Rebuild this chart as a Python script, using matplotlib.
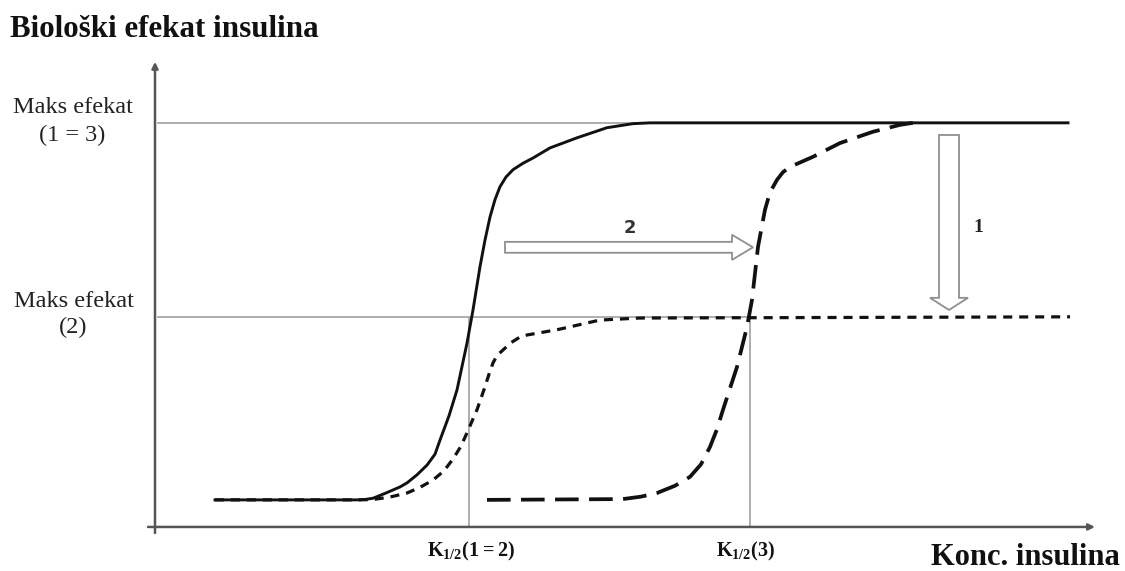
import matplotlib
matplotlib.use("Agg")
import matplotlib.pyplot as plt
import matplotlib.patches as mpatches

plt.rcParams['font.family'] = ['Liberation Serif', 'DejaVu Serif']
plt.rcParams['mathtext.fontset'] = 'custom'
plt.rcParams['mathtext.rm'] = 'Liberation Serif'
plt.rcParams['mathtext.bf'] = 'Liberation Serif:bold'
plt.rcParams['lines.scale_dashes'] = False

# ---- data (insulin concentration, arbitrary units; biological effect, % of max) ----
curve1_x = [6.0, 14.5, 20.2, 21.0, 21.8, 23.0, 24.5, 25.2, 26.2, 27.2, 28.0, 28.5,
            29.4, 30.2, 31.2, 31.8, 32.5, 33.0, 33.5, 34.0, 34.5, 35.1, 35.8, 36.8,
            37.8, 39.5, 42.2, 45.2, 47.8, 49.5, 51.2, 91.3]
curve1_y = [6.7, 6.7, 6.7, 6.8, 7.1, 8.3, 9.9, 10.9, 12.9, 15.3, 18.0, 21.5,
            27.5, 33.9, 45.5, 53.7, 64.4, 71.0, 76.7, 81.0, 84.2, 86.6, 88.4, 90.0,
            91.3, 93.8, 96.3, 98.8, 99.8, 100.0, 100.0, 100.0]

curve2_x = [6.0, 14.5, 20.5, 21.8, 23.5, 25.2, 26.5, 27.8, 28.9, 29.8, 30.6, 31.2,
            32.2, 33.0, 33.4, 33.8, 34.2, 34.8, 35.6, 36.5, 37.2, 40.2, 44.5, 48.5, 91.5]
curve2_y = [6.7, 6.7, 6.7, 6.8, 7.4, 8.4, 9.8, 11.6, 13.9, 16.8, 20.0, 23.3,
            29.0, 34.7, 37.8, 40.6, 42.4, 43.8, 45.6, 47.0, 47.5, 48.8, 51.2, 51.7, 52.0]

curve3_x = [33.2, 46.8, 48.6, 50.2, 52.0, 53.5, 54.6, 55.5, 56.2, 56.8, 58.2, 59.2,
            59.7, 60.3, 61.0, 61.5, 62.2, 62.8, 63.5, 65.8, 68.5, 71.8, 74.5, 75.8]
curve3_y = [6.7, 6.9, 7.5, 8.4, 10.2, 12.4, 15.5, 19.8, 24.2, 29.0, 39.6, 49.5,
            56.2, 69.3, 78.5, 82.8, 85.9, 87.8, 89.1, 91.6, 95.0, 97.8, 99.5, 100.0]

max_effect_13 = 100.0
max_effect_2 = 52.0
k_half_12 = 31.4
k_half_3 = 59.5

title = "Biološki efekat insulina"
xlabel = "Konc. insulina"
ylab_top = ["Maks efekat", "(1 = 3)"]
ylab_mid = ["Maks efekat", "(2)"]
k_labels = [r"$\mathbf{K}_{\mathbf{1/2}}\mathbf{(1 = 2)}$", r"$\mathbf{K}_{\mathbf{1/2}}\mathbf{(3)}$"]

W, H = 1125, 571
fig = plt.figure(figsize=(W / 100, H / 100), dpi=100)
ax = fig.add_axes([0, 0, 1, 1])
ax.axis('off')
ax.set_xlim(-15.5, 97.0)
ax.set_ylim(-10.9, 130.4)

grey = '#a8a8a8'
# reference lines
ax.plot([0.3, 91.3], [max_effect_13, max_effect_13], color=grey, lw=1.3, zorder=1)
ax.plot([0.3, 60.0], [max_effect_2, max_effect_2], color=grey, lw=1.3, zorder=1)
ax.plot([k_half_12, k_half_12], [0, max_effect_2], color=grey, lw=1.3, zorder=1)
ax.plot([k_half_3, k_half_3], [0, max_effect_2], color=grey, lw=1.3, zorder=1)

# axes with arrows
axcol = '#555555'
ax.annotate('', xy=(0, 115.1), xytext=(0, -1.5),
            arrowprops=dict(arrowstyle='-|>', color=axcol, lw=1.8, mutation_scale=9,
                            shrinkA=0, shrinkB=0), zorder=2)
ax.annotate('', xy=(94.0, 0), xytext=(-0.7, 0),
            arrowprops=dict(arrowstyle='-|>', color=axcol, lw=1.8, mutation_scale=9,
                            shrinkA=0, shrinkB=0), zorder=2)

# curves
ax.plot(curve2_x, curve2_y, color='#111111', lw=2.3, ls=(0, (6.5, 5.0)),
        dash_capstyle='butt', solid_joinstyle='round', zorder=3)
ax.plot(curve3_x, curve3_y, color='#111111', lw=2.7, ls=(0, (17.0, 7.5)),
        dash_capstyle='butt', solid_joinstyle='round', zorder=3)
ax.plot(curve1_x, curve1_y, color='#111111', lw=2.1, solid_joinstyle='round', zorder=4)

# hollow arrows
arr2 = mpatches.FancyArrow(35.0, 69.2, 24.8, 0, width=2.7, head_width=6.2,
                           head_length=2.1, length_includes_head=True,
                           facecolor='white', edgecolor='#8f8f8f', lw=1.3, zorder=5)
ax.add_patch(arr2)
arr1 = mpatches.FancyArrow(79.4, 97.0, 0, -43.3, width=2.0, head_width=3.8,
                           head_length=3.0, length_includes_head=True,
                           facecolor='white', edgecolor='#8f8f8f', lw=1.3, zorder=5)
ax.add_patch(arr1)

ax.text(47.5, 74.0, "2", fontsize=13, fontweight='bold', family='DejaVu Sans',
        color='#333333', ha='center', va='center')
ax.text(82.3, 74.0, "1", fontsize=14, fontweight='bold', color='#222222',
        ha='center', va='center')

# K labels
ax.text(k_half_12 + 0.2, -7.4, k_labels[0], fontsize=14.5, ha='center', va='baseline', color='#111111')
ax.text(k_half_3 - 0.5, -7.4, k_labels[1], fontsize=14.5, ha='center', va='baseline', color='#111111')

# texts in figure pixel positions
def ftext(px, py, s, **kw):
    fig.text(px / W, 1 - py / H, s, **kw)

ftext(10, 37, title, fontsize=22.3, fontweight='bold', ha='left', va='baseline', color='#111111')
ftext(1120, 565, xlabel, fontsize=22, fontweight='bold', ha='right', va='baseline', color='#111111')
ftext(73, 113, ylab_top[0], fontsize=17.5, ha='center', va='baseline', color='#222222')
ftext(72, 141, ylab_top[1], fontsize=17.5, ha='center', va='baseline', color='#222222')
ftext(74, 307, ylab_mid[0], fontsize=17.5, ha='center', va='baseline', color='#222222')
ftext(73, 333, ylab_mid[1], fontsize=17.5, ha='center', va='baseline', color='#222222')

fig.savefig('out.png', dpi=100, facecolor='white')
